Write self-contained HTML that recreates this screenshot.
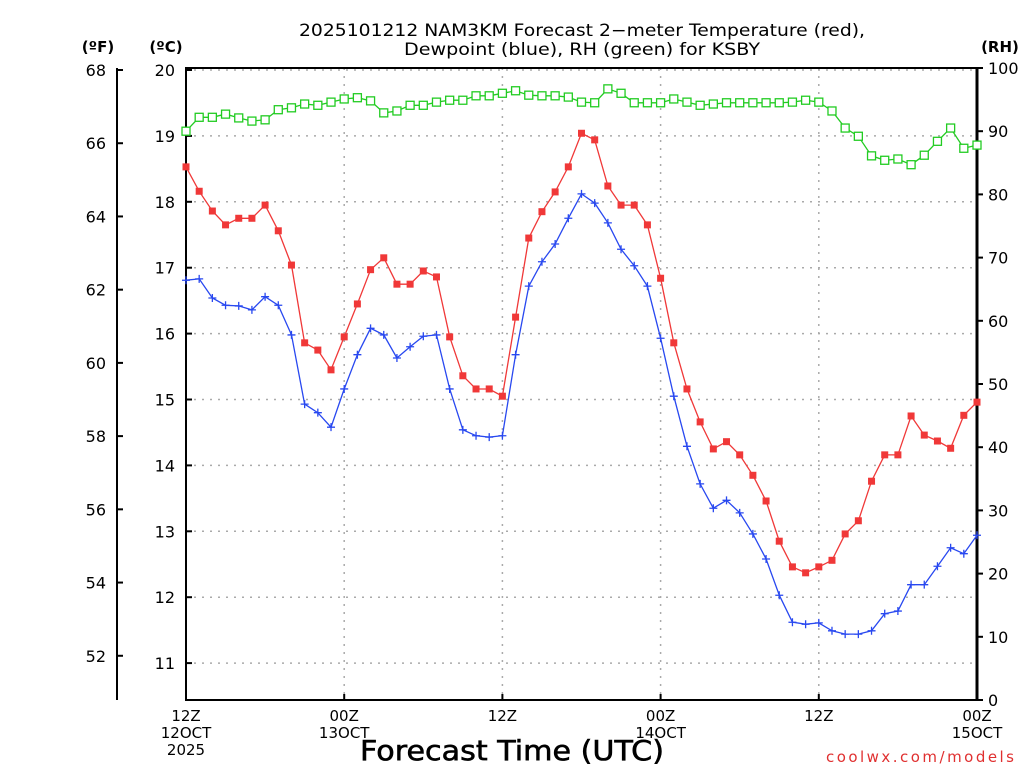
<!DOCTYPE html>
<html><head><meta charset="utf-8"><style>
body{margin:0;background:#fff;}
svg{display:block;font-family:"DejaVu Sans","Liberation Sans",sans-serif;}
</style></head><body>
<svg id="chart" width="1024" height="768" viewBox="0 0 1024 768" xmlns="http://www.w3.org/2000/svg">
<rect width="1024" height="768" fill="#fff"/>
<text x="582" y="36" font-size="17" text-anchor="middle" textLength="566" lengthAdjust="spacingAndGlyphs">2025101212 NAM3KM Forecast 2−meter Temperature (red),</text>
<text x="582" y="55" font-size="17" text-anchor="middle" textLength="356" lengthAdjust="spacingAndGlyphs">Dewpoint (blue), RH (green) for KSBY</text>
<text x="98" y="52" font-size="15" font-weight="bold" text-anchor="middle">(ºF)</text>
<text x="166" y="52" font-size="15" font-weight="bold" text-anchor="middle">(ºC)</text>
<text x="1000" y="52" font-size="15" font-weight="bold" text-anchor="middle">(RH)</text>
<g id="grid"></g><g id="axes"></g><g id="series"></g>
<text x="512" y="760" font-size="28" text-anchor="middle" stroke="#000" stroke-width="0.6" textLength="304" lengthAdjust="spacingAndGlyphs">Forecast Time (UTC)</text>
<text x="1014" y="762" font-size="15" fill="#e03030" text-anchor="end" textLength="188" lengthAdjust="spacing">coolwx.com/models</text>
</svg>
<script>
const hours = Array.from({length:61},(_,i)=>i);
const tempC = [18.53,18.16,17.86,17.65,17.75,17.75,17.95,17.56,17.04,15.86,15.75,15.45,15.95,16.45,16.97,17.15,16.75,16.75,16.95,16.86,15.95,15.36,15.16,15.16,15.05,16.25,17.45,17.85,18.15,18.53,19.04,18.94,18.24,17.95,17.95,17.65,16.84,15.86,15.16,14.66,14.25,14.36,14.16,13.85,13.46,12.85,12.46,12.37,12.46,12.56,12.96,13.16,13.76,14.16,14.16,14.75,14.46,14.37,14.26,14.76,14.96];
const dewC = [16.81,16.83,16.54,16.43,16.42,16.36,16.56,16.43,15.98,14.93,14.80,14.58,15.16,15.68,16.08,15.98,15.63,15.80,15.96,15.98,15.16,14.54,14.45,14.43,14.45,15.68,16.72,17.09,17.36,17.75,18.12,17.98,17.68,17.28,17.03,16.72,15.93,15.05,14.29,13.72,13.35,13.47,13.28,12.96,12.58,12.03,11.62,11.59,11.61,11.49,11.44,11.44,11.49,11.75,11.79,12.19,12.19,12.47,12.75,12.66,12.94];
const rh = [90.0,92.2,92.2,92.7,92.1,91.6,91.8,93.4,93.7,94.3,94.1,94.6,95.1,95.3,94.8,92.9,93.2,94.1,94.1,94.6,94.9,94.9,95.6,95.6,96.0,96.4,95.7,95.6,95.6,95.4,94.6,94.5,96.7,96.0,94.5,94.5,94.5,95.1,94.6,94.1,94.3,94.5,94.5,94.5,94.5,94.5,94.6,94.9,94.6,93.2,90.5,89.2,86.1,85.4,85.6,84.7,86.2,88.4,90.5,87.3,87.8];
const cTicks = [11,12,13,14,15,16,17,18,19,20];
const fTicks = [52,54,56,58,60,62,64,66,68];
const rhTicks = [0,10,20,30,40,50,60,70,80,90,100];
const xTickHours = [0,12,24,36,48,60];
const xTickLabels = [["12Z","12OCT","2025"],["00Z","13OCT"],["12Z"],["00Z","14OCT"],["12Z"],["00Z","15OCT"]];

const X0=186,X1=977,Y0=68,Y1=700;
const xs=h=>X0+(X1-X0)*h/60;
const yC=c=>70+(20-c)*65.9;
const yF=f=>yC((f-32)/1.8);
const yR=r=>Y1-(Y1-Y0)*r/100;
const NS="http://www.w3.org/2000/svg";
function mk(tag,attrs,parent){const e=document.createElementNS(NS,tag);for(const k in attrs)e.setAttribute(k,attrs[k]);parent.appendChild(e);return e;}
const grid=document.getElementById('grid'),axes=document.getElementById('axes'),ser=document.getElementById('series');

cTicks.forEach(c=>{
  const y=yC(c);
  const g=mk('line',{x1:X0,x2:X1,y1:y,y2:y,stroke:'#aaa','stroke-dasharray':'2,6','stroke-width':1.5},grid);
  
  
  const t=mk('line',{x1:X0,x2:X0+6,y1:y,y2:y,stroke:'#000','stroke-width':2},axes);
  
  
  const l=mk('text',{x:175,y:y+6,'font-size':16,'text-anchor':'end'},axes);l.textContent=c;
  
  
});
[12,24,36,48].forEach(h=>{
  const g=mk('line',{x1:xs(h),x2:xs(h),y1:Y0,y2:Y1,stroke:'#aaa','stroke-dasharray':'2,6','stroke-width':1.5},grid);
  
  
});
const fr=mk('rect',{x:X0,y:Y0,width:X1-X0,height:Y1-Y0,fill:'none',stroke:'#000','stroke-width':2},axes);


const ra=mk('line',{x1:X1,x2:X1,y1:Y0,y2:Y1,stroke:'#000','stroke-width':3},axes);


const fa=mk('line',{x1:117,x2:117,y1:Y0,y2:Y1,stroke:'#000','stroke-width':2},axes);


fTicks.forEach(f=>{
  const y=yF(f);
  const t=mk('line',{x1:117,x2:123,y1:y,y2:y,stroke:'#000','stroke-width':2},axes);
  
  
  const l=mk('text',{x:106,y:y+6,'font-size':16,'text-anchor':'end'},axes);l.textContent=f;
  
  
});
rhTicks.forEach(r=>{
  const y=yR(r);
  const t=mk('line',{x1:X1,x2:X1+6,y1:y,y2:y,stroke:'#000','stroke-width':2},axes);
  
  
  const l=mk('text',{x:988,y:y+6,'font-size':16},axes);l.textContent=r;
  
  
});
xTickHours.forEach((h,i)=>{
  const t=mk('line',{x1:xs(h),x2:xs(h),y1:Y1,y2:Y1-6,stroke:'#000','stroke-width':2},axes);
  
  
  const l=mk('text',{x:xs(h),y:721,'font-size':15,'text-anchor':'middle'},axes);
  
  
  xTickLabels[i].forEach((s,j)=>{const ts=mk('tspan',{x:xs(h),dy:j?17:0},l);ts.textContent=s;});
});

function series(vals,yf,color,name,marker){
  const pts=vals.map((v,i)=>xs(hours[i]).toFixed(1)+','+yf(v).toFixed(1)).join(' ');
  const pl=mk('polyline',{points:pts,fill:'none',stroke:color,'stroke-width':1.3},ser);
  
  
  vals.forEach((v,i)=>{
    const x=xs(hours[i]),y=yf(v);let m;
    if(marker==='sq') m=mk('rect',{x:x-3.5,y:y-3.5,width:7,height:7,fill:color},ser);
    else if(marker==='osq') m=mk('rect',{x:x-4,y:y-4,width:8,height:8,fill:'#fff',stroke:color,'stroke-width':1.3},ser);
    else m=mk('path',{d:`M${x-4},${y}H${x+4}M${x},${y-4}V${y+4}`,stroke:color,'stroke-width':1.3},ser);
    
    
  });
}
series(rh,yR,'#22cc22','rh','osq');
series(tempC,yC,'#f03838','temperature','sq');
series(dewC,yC,'#2848f0','dewpoint','plus');
</script>
</body></html>
